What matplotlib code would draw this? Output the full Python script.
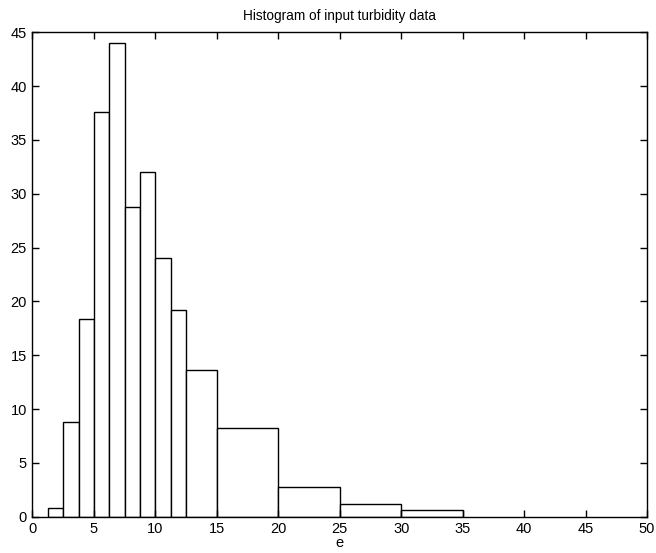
import matplotlib
matplotlib.use("Agg")
import matplotlib.pyplot as plt
import numpy as np

plt.rcParams['font.family'] = ['Liberation Sans', 'DejaVu Sans']

bin_edges = [1.25, 2.5, 3.75, 5, 6.25, 7.5, 8.75, 10, 11.25, 12.5, 15, 20, 25, 30, 35]
counts = [0.8, 8.8, 18.4, 37.6, 44.0, 28.8, 32.0, 24.0, 19.2, 13.6, 8.2, 2.8, 1.2, 0.6]
xticks = [0, 5, 10, 15, 20, 25, 30, 35, 40, 45, 50]
yticks = [0, 5, 10, 15, 20, 25, 30, 35, 40, 45]
title = "Histogram of input turbidity data"
xlabel = "e"

fig = plt.figure(figsize=(6.56, 5.53), dpi=100)
ax = fig.add_axes([0.0495, 0.0656, 0.9368, 0.876])

edges = np.array(bin_edges)
ax.bar(edges[:-1], counts, width=np.diff(edges), align='edge',
       facecolor='white', edgecolor='black', linewidth=1.0)

ax.set_xlim(0, 50)
ax.set_ylim(0, 45)
ax.set_xticks(xticks)
ax.set_yticks(yticks)
ax.tick_params(direction='in', top=True, right=True, length=5, width=1,
               labelsize=10.5, pad=4)
for s in ax.spines.values():
    s.set_linewidth(1.0)
ax.set_title(title, fontsize=9.8, pad=9)
ax.set_xlabel(xlabel, fontsize=10.5, labelpad=0)

fig.savefig("out.png", dpi=100)
